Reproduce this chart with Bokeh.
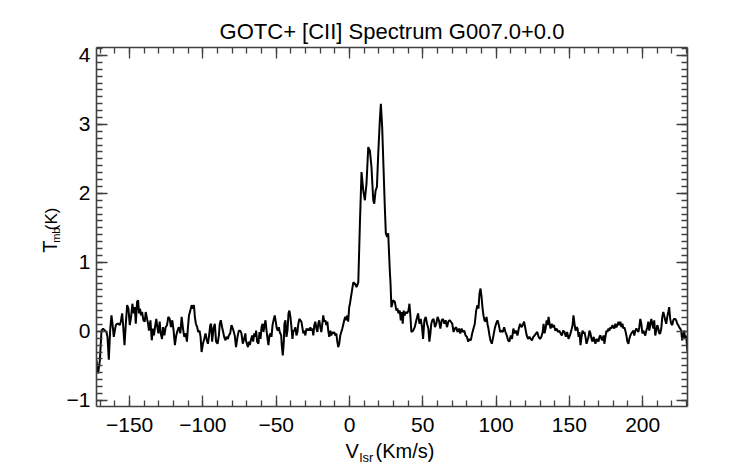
import math
from bokeh.plotting import figure
from bokeh.layouts import column, row
from bokeh.models import Range1d, SingleIntervalTicker, LinearAxis, CustomJSTickFormatter
from bokeh.core.properties import value
from bokeh.embed import file_html
from bokeh.resources import INLINE

# ---------------- data ----------------
vel_a = [-172.6,-171.5,-170.3,-169.2,-168.1,-166.9,-165.8,-165.1,-164.2,-163.3,
         -162.4,-161.7,-160.8,-160.1,-159.4,-158.5,-157.6,-156.7,-156.0,-155.1,
         -154.5,-153.5,-152.6,-151.7,-150.8,-149.9,-149.0,-148.1,-147.2,-146.5,
         -145.8,-144.9,-144.2,-143.6,-142.9,-142.2,-141.5,-140.6,-139.7,-139.0,
         -138.1,-137.4,-136.8,-135.8,-134.9,-134.0,-133.4,-132.7,-131.8,-131.1,
         -130.4,-129.5,-128.8,-127.9,-127.2,-126.3,-125.4,-124.5,-123.6,-122.7,
         -121.8,-120.9,-120.0,-119.1,-118.2,-117.3,-116.4,-115.4,-114.5,-113.6,
         -112.7,-111.8,-110.9,-110.2,-109.5,-108.6,-107.7,-106.8,-106.1,-105.5,
         -104.8,-103.9,-103.2,-102.3,-101.6,-100.9,-100.0,-99.1,-98.2,-97.5,
         -96.6,-95.9,-95.0,-94.4,-93.7,-92.8,-91.9,-91.0,-90.0,-89.1,
         -88.5,-87.8,-86.9,-86.2,-85.5,-84.6,-83.9,-83.0,-82.3,-81.4,
         -80.5,-79.6,-78.9,-78.3,-77.4,-76.4,-75.5,-74.6,-73.7,-72.8,
         -71.9,-71.0]
tmb_a = [-0.42,-0.61,-0.42,0.01,0.04,0.01,-0.01,-0.08,-0.41,0.01,
         0.23,0.11,-0.08,0.01,0.09,0.11,0.11,0.09,0.14,0.26,
         0.11,-0.20,0.11,0.38,0.33,0.09,0.21,0.40,0.26,0.35,
         0.11,0.43,0.45,0.26,0.33,0.23,0.28,0.16,0.14,0.28,
         0.18,0.11,0.01,0.16,-0.13,0.04,-0.06,0.06,0.18,0.06,
         -0.03,0.14,-0.03,-0.11,0.06,-0.06,0.06,0.09,0.21,0.18,
         0.06,0.16,0.01,-0.20,-0.06,0.01,0.06,-0.03,0.21,0.04,
         -0.08,-0.03,-0.15,0.06,0.23,0.30,0.38,0.33,0.38,0.21,
         0.11,0.06,-0.01,0.01,-0.08,-0.30,-0.18,-0.11,-0.03,-0.11,
         -0.18,-0.08,0.09,0.11,-0.15,0.04,0.11,-0.15,-0.18,-0.06,
         0.11,0.16,0.06,-0.01,-0.08,-0.13,-0.08,-0.11,-0.06,-0.03,
         0.09,0.04,-0.01,-0.06,-0.23,-0.08,0.01,0.01,-0.03,-0.18,
         -0.11,-0.03]

vel_b = [-70.7,-70.0,-69.3,-68.6,-68.0,-67.3,-66.4,-65.7,-65.0,-64.3,
         -63.7,-63.0,-62.1,-61.4,-60.7,-60.0,-59.3,-58.7,-58.0,-57.3,
         -56.6,-55.9,-55.3,-54.6,-53.9,-53.2,-52.5,-51.6,-51.0,-50.3,
         -49.6,-48.9,-48.2,-47.6,-46.6,-46.2,-45.5,-44.8,-44.4,-43.7,
         -43.0,-42.3,-41.6,-41.0,-40.3,-39.6,-38.9,-38.3,-37.6,-36.9,
         -36.2,-35.5,-34.9,-34.2,-33.5,-32.8,-32.2,-31.5,-30.8,-30.1,
         -29.4,-28.7,-28.1,-27.4,-26.7,-26.0,-25.3,-24.7,-24.0,-23.3,
         -22.6,-21.9,-21.3,-20.6,-19.9,-19.2,-18.5,-17.9,-17.2,-16.5,
         -15.8,-15.1,-14.5,-13.8,-13.1,-12.4,-11.7,-11.1,-10.4,-9.7,
         -9.0,-8.3,-7.7,-7.0,-6.3,-5.6,-4.9,-4.3,-3.6,-2.9,
         -2.2,-1.5,-0.9,-0.2]
tmb_b = [-0.13,-0.18,-0.23,-0.15,-0.20,-0.13,-0.06,-0.15,-0.03,-0.08,
         0.01,-0.15,-0.18,-0.01,-0.11,0.06,0.11,-0.01,0.09,0.16,
         0.01,-0.11,-0.20,-0.06,-0.03,-0.08,0.09,0.18,0.23,0.14,
         0.04,0.01,0.06,-0.01,-0.06,-0.20,-0.35,-0.15,0.11,0.16,
         -0.08,0.01,0.26,0.30,0.21,0.06,-0.11,0.01,0.01,0.06,
         -0.06,-0.01,0.11,0.18,0.16,0.14,0.06,-0.03,0.01,-0.06,
         0.04,0.01,0.04,0.01,0.06,0.01,0.04,-0.06,0.09,0.14,
         0.04,-0.01,0.11,0.16,0.06,-0.01,0.11,0.23,0.14,0.16,
         0.09,0.14,0.01,-0.08,0.01,-0.06,-0.01,-0.03,-0.01,-0.06,
         -0.03,-0.15,-0.23,-0.18,-0.06,-0.01,0.04,0.09,0.16,0.21,
         0.16,0.23,0.14,0.35]

vel_c = [0.3,1.4,2.6,3.7,4.8,6.0,7.1,8.2,9.4,10.5,
         11.6,12.8,13.9,15.0,16.2,16.9,17.8,18.7,19.6,20.7,
         21.4,22.3,23.2,24.1,24.8,25.7,26.4,27.1,27.5,28.0,
         28.6]
tmb_c = [0.40,0.55,0.71,0.69,0.64,0.71,1.56,2.31,2.04,1.90,
         2.14,2.67,2.62,2.38,1.90,1.85,2.04,2.09,2.57,3.06,
         3.30,2.96,2.38,1.80,1.42,1.37,1.42,1.08,0.88,0.69,
         0.35]

vel_d = [29.8,30.9,32.0,32.7,33.4,34.3,35.0,35.7,36.3,37.0,
         37.7,38.4,39.3,40.2,40.9,41.6,42.2,43.4,44.5,45.6,
         46.8,47.7,48.6,49.5,50.2,51.1,52.0,52.9,53.8,54.5,
         55.2,55.8,56.5,57.4,58.3,59.2,60.1,61.0,62.0,62.9,
         63.8,64.7,65.6,66.5,67.4,68.3,69.2,70.1,71.0,71.9,
         72.8,73.7,74.7,75.6,76.5,77.4,78.3,79.2,80.1,81.0,
         81.9,82.8,83.7,84.6,85.5,86.4,87.3,88.0,88.7,89.4,
         90.1,90.8,91.4,92.1,92.8,93.5,94.2,94.8,95.5,96.2,
         97.1,97.8,98.5,99.1,100.0,101.0,101.9,102.8,103.7,104.6,
         105.5,106.4,107.3,108.2,109.1,110.0,110.9,111.8,112.7,113.6,
         114.6,115.5,116.4,117.3,118.2,119.1,120.0,120.9,121.8,122.7,
         123.6,124.5,125.4,126.3,127.3]
tmb_d = [0.45,0.43,0.30,0.33,0.26,0.30,0.16,0.28,0.11,0.30,
         0.23,0.28,0.26,0.30,0.40,0.21,-0.01,0.01,0.06,0.16,
         0.26,0.11,0.18,0.06,-0.11,0.16,0.21,0.11,0.04,-0.15,
         -0.03,0.11,0.16,0.18,0.06,0.11,0.21,0.16,0.04,0.16,
         0.18,0.11,0.16,0.06,0.14,0.16,0.14,0.11,-0.01,0.04,
         0.06,-0.01,0.04,-0.03,0.04,-0.01,0.01,-0.06,-0.08,-0.15,
         -0.11,-0.13,-0.03,0.04,0.11,0.30,0.38,0.33,0.55,0.62,
         0.50,0.33,0.23,0.16,0.14,0.21,0.10,0.04,-0.06,-0.13,
         -0.18,-0.11,-0.03,0.04,0.11,0.16,0.09,-0.01,0.01,-0.01,
         0.06,-0.01,-0.06,-0.13,-0.15,-0.06,-0.11,0.04,-0.03,0.01,
         -0.06,0.04,0.11,0.06,0.09,0.14,0.04,-0.06,-0.11,-0.08,
         -0.11,-0.13,-0.08,-0.06,-0.03]

vel_e = [128.1,129.0,130.0,130.9,131.8,132.4,133.1,133.8,134.5,135.2,
         135.8,136.5,137.2,137.9,138.6,139.5,140.4,141.3,142.2,143.1,
         144.0,144.9,145.8,146.7,147.6,148.5,149.4,150.4,151.3,152.2,
         152.8,153.5,154.2,154.9,155.6,156.3,156.9,157.6,158.3,159.0,
         159.7,160.3,161.0,161.7,162.4,163.1,163.7,164.4,165.1,165.8,
         166.5,167.1,167.8,168.5,169.2,169.9,170.5,171.2,171.9,172.6,
         173.3,173.9,174.6,175.3,176.0,176.7,177.3,178.0,178.7,179.4,
         180.1,180.7,181.4,182.1,182.8,183.5,184.1,184.8,185.5,186.2,
         186.9,187.5,188.2,188.9,189.6,190.3,190.9,191.6,192.3,193.0,
         193.7,194.3,195.0,195.7,196.4,197.1,197.7,198.4,199.1,199.8,
         200.5,201.1,201.8,202.5,203.2,203.9,204.5,205.2,205.9,206.6,
         207.3,207.9,208.6,209.3,210.0,210.7,211.3,212.0,212.7,213.4,
         214.1,214.7,215.4,216.1,216.8,217.5,218.1,218.8,219.5,220.2,
         220.9,221.5,222.2,222.9,223.6,224.3,224.9,225.6,226.3,227.0,
         227.7,228.3,229.0,229.7,230.6]
tmb_e = [-0.01,-0.08,-0.11,-0.08,-0.01,0.11,-0.03,0.04,0.16,0.09,
         0.21,0.11,0.04,0.11,0.06,0.09,0.01,0.04,-0.01,0.01,
         -0.03,-0.06,0.01,-0.01,-0.08,-0.01,-0.11,-0.06,0.01,0.09,
         0.23,0.11,0.01,0.06,0.04,-0.08,-0.01,-0.20,-0.08,0.01,
         -0.03,-0.01,-0.08,-0.18,-0.13,-0.08,0.01,-0.03,-0.11,-0.15,
         -0.08,-0.13,-0.18,-0.11,-0.13,-0.15,-0.08,-0.06,-0.11,-0.13,
         -0.06,-0.18,-0.08,0.01,-0.01,0.04,0.01,0.06,0.04,0.09,
         0.06,0.04,0.11,0.06,0.09,0.14,0.09,0.14,0.06,0.11,
         0.04,0.06,0.01,-0.06,-0.15,-0.18,-0.11,-0.06,-0.03,-0.01,
         0.01,-0.06,0.01,0.04,0.01,-0.01,0.06,0.18,0.11,-0.03,
         0.01,-0.03,-0.06,0.01,0.06,0.14,0.01,0.09,0.18,0.11,
         0.04,0.16,-0.06,0.01,0.09,0.04,-0.03,-0.03,0.04,0.21,
         0.28,0.23,0.16,0.11,0.21,0.28,0.35,0.18,0.11,0.09,
         0.16,0.18,0.18,0.16,0.11,0.09,0.06,0.04,0.01,-0.13,
         -0.06,0.01,-0.11,-0.06,-0.30]

x_ticks_interval = 50
y_ticks_interval = 1
title_text = "GOTC+ [CII] Spectrum G007.0+0.0"

vel = vel_a + vel_b + vel_c + vel_d + vel_e
tmb = tmb_a + tmb_b + tmb_c + tmb_d + tmb_e

# ---------------- layout (picture pixels; page content starts at 0,0) ----------------
TOTAL_W, TOTAL_H = 742, 464
X0, X1 = -172.6, 230.6
Y0, Y1 = -1.09, 4.115
FL, FT, FW, FH = 94, 47, 593, 359     # wanted frame position
LW = 63                                # width of the left label strip
PW = TOTAL_W - LW                      # main figure width
BB = 35                                # bottom border of main figure
PH = FT + FH + BB                      # main figure height
XH = TOTAL_H - PH                      # bottom label strip height
FONT = "Liberation Sans"
AXC = "#404040"
SHIFT = 0.36                           # glyph text sits this many em below its anchor

p = figure(width=PW, height=PH,
           min_border_left=FL - LW, min_border_top=FT,
           min_border_right=PW - (FL - LW) - FW, min_border_bottom=BB,
           x_range=Range1d(X0, X1), y_range=Range1d(Y0, Y1),
           output_backend="svg", toolbar_location=None,
           x_axis_location=None, y_axis_location=None)
p.xgrid.visible = False
p.ygrid.visible = False
p.outline_line_color = None
p.background_fill_color = "white"
p.border_fill_color = "white"
p.title.text = title_text
p.title.text_font = FONT
p.title.text_font_size = "22px"
p.title.text_font_style = "normal"
p.title.text_color = "black"
p.title.align = "center"
p.title.standoff = 7

neg = CustomJSTickFormatter(code="return tick < 0 ? '\u2212' + Math.abs(tick) : String(tick);")
blank = CustomJSTickFormatter(code="return '';")

def style(ax, labels):
    ax.axis_line_color = AXC
    ax.axis_line_width = 1.6
    ax.major_tick_line_color = AXC
    ax.minor_tick_line_color = AXC
    ax.major_tick_line_width = 1.3
    ax.minor_tick_line_width = 1.3
    ax.major_tick_in = 11
    ax.major_tick_out = 0
    ax.minor_tick_in = 6
    ax.minor_tick_out = 0
    ax.major_label_text_font = FONT
    ax.major_label_text_font_size = "21px"
    ax.major_label_text_color = "black"
    if not labels:
        ax.major_label_text_font_size = "0px"
        ax.major_label_standoff = 0

xb = LinearAxis(ticker=SingleIntervalTicker(interval=x_ticks_interval, num_minor_ticks=5), formatter=neg)
style(xb, True); xb.major_label_standoff = 11
xt = LinearAxis(ticker=SingleIntervalTicker(interval=x_ticks_interval, num_minor_ticks=5), formatter=blank)
style(xt, False)
yl = LinearAxis(ticker=SingleIntervalTicker(interval=y_ticks_interval, num_minor_ticks=10), formatter=neg)
style(yl, True); yl.major_label_standoff = 6
yr = LinearAxis(ticker=SingleIntervalTicker(interval=y_ticks_interval, num_minor_ticks=10), formatter=blank)
style(yr, False)
p.add_layout(xb, "below")
p.add_layout(xt, "above")
p.add_layout(yl, "left")
p.add_layout(yr, "right")

p.line(vel, tmb, line_color="black", line_width=2)

# ---------------- label strips (coordinates = picture pixels) ----------------
def strip(w, h, x_off, y_off):
    f = figure(width=w, height=h, x_range=Range1d(x_off, x_off + w),
               y_range=Range1d(y_off + h, y_off), output_backend="svg",
               toolbar_location=None, min_border=0, title=None,
               x_axis_location=None, y_axis_location=None)
    f.xgrid.visible = False
    f.ygrid.visible = False
    f.outline_line_color = None
    f.background_fill_color = "white"
    f.border_fill_color = "white"
    return f

def put(f, x, y, text, size, rotated=False):
    # (x, y) = wanted baseline start; compensate the glyph's downward shift
    if rotated:
        x = x - SHIFT * size
    else:
        y = y - SHIFT * size
    f.text(x=[x], y=[y], text=[text], text_font=value(FONT), text_font_size=f"{size}px",
           text_color="black", text_align="left", text_baseline="alphabetic",
           angle=math.pi / 2 if rotated else 0.0)

ly = strip(LW, PH, 0, 0)
put(ly, 57, 252, "T", 20, True)
put(ly, 59.5, 240, "mb", 11, True)
put(ly, 57, 224.5, "(K)", 17, True)

bx = strip(TOTAL_W, XH, 0, PH)
put(bx, 345, 458, "V", 20)
put(bx, 359, 461.5, "lsr", 13)
put(bx, 375, 458, "(Km/s)", 20)

layout = column(row(ly, p, spacing=0), bx, spacing=0)
open("out.html", "w").write(file_html(layout, INLINE))
